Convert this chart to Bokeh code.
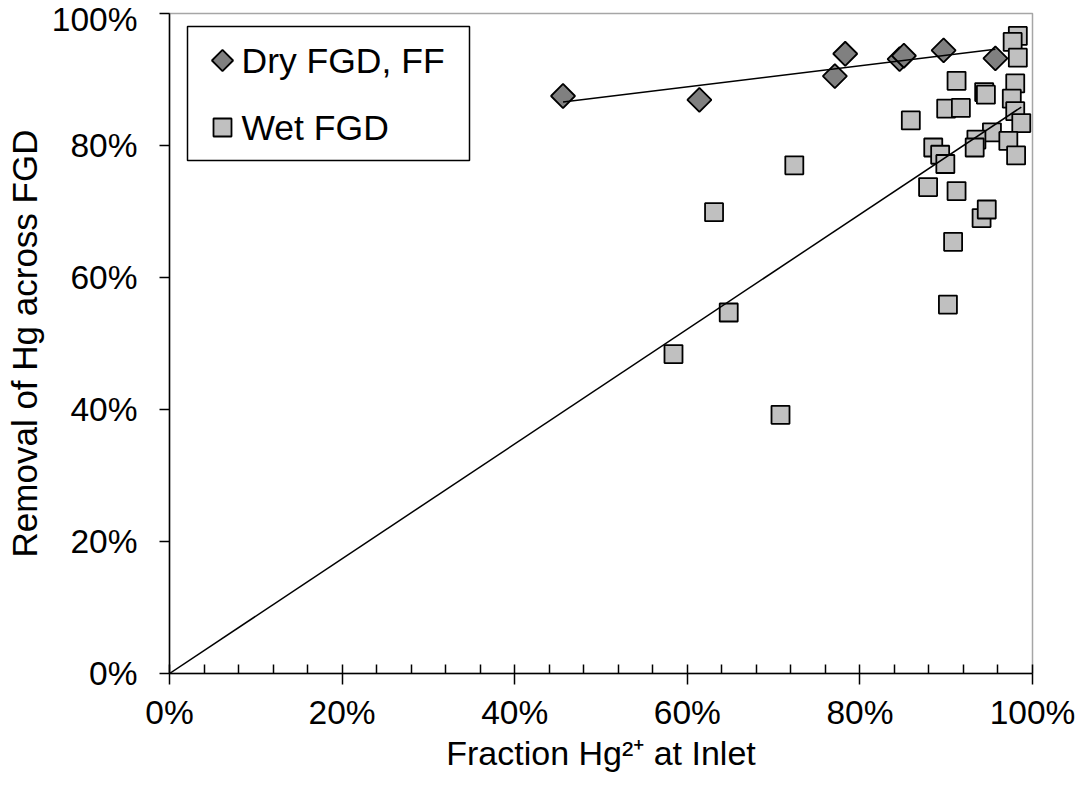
import numpy as np
from bokeh.plotting import figure
from bokeh.models import PrintfTickFormatter, SingleIntervalTicker, Range1d
from bokeh.core.properties import value
from bokeh.embed import file_html
from bokeh.resources import INLINE

# ---- data (percent) ----
dry_x = [45.6, 61.4, 77.1, 78.3, 84.6, 85.1, 89.7, 95.7]
dry_y = [87.5, 86.9, 90.5, 93.9, 93.1, 93.6, 94.4, 93.2]

wet_x = [98.3, 97.7, 98.3, 91.2, 98.0, 94.4, 94.6, 97.6, 90.0, 91.7, 98.0,
         85.9, 98.7, 95.3, 93.5, 93.3, 97.2, 88.5, 89.3, 89.9, 98.1, 87.9,
         91.2, 94.1, 94.7, 90.8, 90.2, 72.4, 63.1, 64.8, 58.4, 70.8]
wet_y = [96.6, 95.7, 93.3, 89.8, 89.4, 88.1, 87.7, 87.1, 85.6, 85.7, 85.2,
         83.8, 83.4, 82.0, 80.9, 79.7, 80.7, 79.7, 78.6, 77.2, 78.5, 73.7,
         73.1, 69.0, 70.3, 65.4, 55.9, 77.0, 69.9, 54.7, 48.4, 39.2]

series_names = ["Dry FGD, FF", "Wet FGD"]
x_title = "Fraction Hg\u00b2\u207a at Inlet"
y_title = "Removal of Hg across FGD"

FONT = "Liberation Sans"

# ---- layout (page pixels) ----
FRAME_L, FRAME_R, FRAME_T, FRAME_B = 177, 1040, 21, 681
W, H = 1075, 775

def px2x(X):
    return (X - FRAME_L) / (FRAME_R - FRAME_L) * 100.0

def py2y(Y):
    return (FRAME_B - Y) / (FRAME_B - FRAME_T) * 100.0

p = figure(width=W, height=H, x_range=Range1d(0, 100), y_range=Range1d(0, 100),
           output_backend="svg", toolbar_location=None,
           min_border_left=FRAME_L - 8, min_border_right=W - (FRAME_R - 8),
           min_border_top=FRAME_T - 8, min_border_bottom=H - (FRAME_B - 8))
p.background_fill_color = "white"
p.border_fill_color = "white"
p.outline_line_color = "#a6a6a6"
p.outline_line_width = 1.5
p.xgrid.visible = False
p.ygrid.visible = False

for ax in (p.xaxis[0], p.yaxis[0]):
    ax.ticker = SingleIntervalTicker(interval=20, num_minor_ticks=5)
    ax.formatter = PrintfTickFormatter(format="%d%%")
    ax.axis_line_color = "black"
    ax.axis_line_width = 1.5
    ax.major_tick_line_color = "black"
    ax.major_tick_line_width = 1.5
    ax.major_tick_in = 0
    ax.major_tick_out = 10
    ax.major_label_text_font = FONT
    ax.major_label_text_font_size = "33.5px"
    ax.major_label_text_color = "black"
    ax.axis_label_text_font = FONT
    ax.axis_label_text_font_style = "normal"
    ax.axis_label_text_color = "black"

p.xaxis.minor_tick_line_color = "black"
p.xaxis.minor_tick_line_width = 1.5
p.xaxis.minor_tick_in = 9
p.xaxis.minor_tick_out = 0
p.xaxis.major_tick_out = 11
p.xaxis.major_label_standoff = 9
p.xaxis.axis_label = x_title
p.xaxis.axis_label_text_font_size = "34px"
p.xaxis.axis_label_standoff = 0

p.yaxis.minor_tick_line_color = None
p.yaxis.major_label_standoff = 22
p.yaxis.axis_label = y_title
p.yaxis.axis_label_text_font_size = "35px"
p.yaxis.axis_label_standoff = 5

# ---- points ----
p.scatter(dry_x, dry_y, marker="square", angle=np.pi / 4, size=17,
          fill_color="#808080", line_color="black", line_width=1.8)
p.scatter(wet_x, wet_y, marker="square", size=18,
          fill_color="#c0c0c0", line_color="black", line_width=1.8)

# ---- trendlines (fitted from the data) ----
dx = np.array(dry_x); dy = np.array(dry_y)
sd, idr = np.polyfit(dx, dy, 1)
xd = np.array([dx.min(), dx.max()])
p.line(xd, sd * xd + idr, line_color="black", line_width=1.5)

wx = np.array(wet_x); wy = np.array(wet_y)
sw = float((wx * wy).sum() / (wx * wx).sum())
xw = np.array([0.0, wx.max()])
p.line(xw, sw * xw, line_color="black", line_width=1.5)

# ---- legend (manual) ----
LEG_L, LEG_R, LEG_T, LEG_B = 195, 477, 34, 168
GLYPH_X, TEXT_X = 230, 249
ROW_Y = [68, 135]
p.quad(left=[px2x(LEG_L)], right=[px2x(LEG_R)], top=[py2y(LEG_T)], bottom=[py2y(LEG_B)],
       fill_color="white", line_color="black", line_width=1.5)
p.scatter([px2x(GLYPH_X)], [py2y(ROW_Y[0])], marker="square", angle=np.pi / 4, size=15,
          fill_color="#808080", line_color="black", line_width=1.8)
p.scatter([px2x(GLYPH_X)], [py2y(ROW_Y[1])], marker="square", size=18,
          fill_color="#c0c0c0", line_color="black", line_width=1.8)
p.text(x=[px2x(TEXT_X)] * 2, y=[py2y(r) for r in ROW_Y], text=series_names,
       text_font=value(FONT), text_font_size=value("35.5px"),
       text_baseline="middle", text_align="left", text_color="black")

open("out.html", "w").write(file_html(p, INLINE))
